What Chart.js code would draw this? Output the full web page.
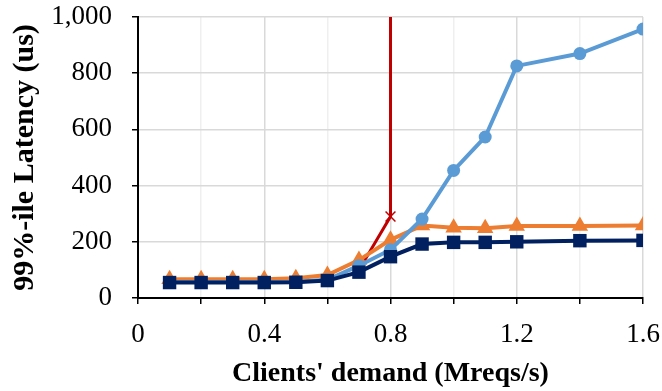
<!DOCTYPE html>
<html>
<head>
<meta charset="utf-8">
<script src="https://cdn.jsdelivr.net/npm/chart.js@4"></script>
<style>
  html, body { margin: 0; padding: 0; background: #fff; }
  #wrap { width: 662px; height: 391px; }
</style>
</head>
<body>
<div id="wrap"><canvas id="latencyChart" width="662" height="391"></canvas></div>
<script>
// demand points (Mreqs/s)
const demand = [0.1, 0.2, 0.3, 0.4, 0.5, 0.6, 0.7, 0.8, 0.9, 1.0, 1.1, 1.2, 1.4, 1.6];

// 99%-ile latency (us)
const latencyBlue   = [57, 57, 57, 57, 58, 65, 115, 172, 281, 454, 573, 826, 870, 957];
const latencyOrange = [67, 67, 67, 67, 70, 82, 135, 207, 258, 250, 248, 256, 256, 258];
const latencyNavy   = [55, 55, 55, 55, 56, 62, 92, 147, 192, 198, 198, 200, 204, 205];

// red series saturates at 0.8 and shoots off the top
const redDemand  = [0.7, 0.8, 0.8];
const redLatency = [100, 290, 1100];

const xTicks = [0, 0.4, 0.8, 1.2, 1.6];

const toPoints = (xs, ys) => xs.map((x, i) => ({ x: x, y: ys[i] }));

const serif = 'Liberation Serif, Times New Roman, serif';

const ctx = document.getElementById('latencyChart').getContext('2d');
new Chart(ctx, {
  type: 'line',
  data: {
    datasets: [
      {
        data: toPoints(demand, latencyNavy),
        borderColor: '#002060',
        backgroundColor: '#002060',
        borderWidth: 4,
        pointStyle: 'rect',
        pointRadius: 9.5,
        pointBorderWidth: 0,
        fill: false
      },
      {
        data: toPoints(demand, latencyBlue),
        borderColor: '#5B9BD5',
        backgroundColor: '#5B9BD5',
        borderWidth: 4,
        pointStyle: 'circle',
        pointRadius: 6.5,
        pointBorderWidth: 0,
        fill: false
      },
      {
        data: toPoints(demand, latencyOrange),
        borderColor: '#ED7D31',
        backgroundColor: '#ED7D31',
        borderWidth: 4,
        pointStyle: 'triangle',
        pointRadius: 9.5,
        pointBorderWidth: 0,
        fill: false
      },
      {
        data: toPoints(redDemand, redLatency),
        borderColor: '#C00000',
        backgroundColor: '#C00000',
        borderWidth: 3,
        pointStyle: 'crossRot',
        pointRadius: [0, 7, 0],
        pointBorderWidth: 1.5,
        pointBorderColor: '#C00000',
        fill: false
      }
    ]
  },
  options: {
    responsive: false,
    animation: false,
    layout: { padding: { left: 0, right: 19, top: 17, bottom: 0 } },
    plugins: { legend: { display: false }, tooltip: { enabled: false } },
    scales: {
      x: {
        type: 'linear',
        min: 0,
        max: 1.6,
        afterFit: scale => {
          scale.height = 93;
          scale.paddingLeft = 0;
          scale.paddingRight = 0;
        },
        ticks: {
          stepSize: 0.2,
          color: '#000',
          padding: 15,
          maxRotation: 0,
          font: { family: serif, size: 27 },
          callback: v => {
            const label = Number(v.toFixed(1));
            return xTicks.includes(label) ? String(label) : '';
          }
        },
        grid: {
          color: c => (Math.round(c.tick.value * 10) % 4 === 0 ? '#d9d9d9' : '#efefef'),
          lineWidth: 1.5,
          tickColor: '#000',
          tickLength: 6
        },
        border: { color: '#000', width: 2 },
        title: {
          display: true,
          text: "Clients' demand (Mreqs/s)",
          color: '#000',
          font: { family: serif, size: 28, weight: 'bold' },
          padding: { top: 0, bottom: 0 }
        }
      },
      y: {
        min: 0,
        max: 1000,
        afterFit: scale => {
          scale.width = 138;
          scale.paddingTop = 0;
          scale.paddingBottom = 0;
        },
        ticks: {
          stepSize: 100,
          color: '#000',
          padding: 20,
          font: { family: serif, size: 27 },
          callback: v => (v % 200 === 0 ? v.toLocaleString('en-US') : '')
        },
        grid: {
          color: c => (c.tick.value % 200 === 0 ? '#d9d9d9' : '#efefef'),
          lineWidth: 1.5,
          tickColor: '#000',
          tickLength: 6
        },
        border: { color: '#000', width: 2 },
        title: {
          display: true,
          text: '99%-ile Latency (us)',
          color: '#000',
          font: { family: serif, size: 30, weight: 'bold' },
          padding: { top: 7, bottom: 0 }
        }
      }
    }
  }
});
</script>
</body>
</html>
